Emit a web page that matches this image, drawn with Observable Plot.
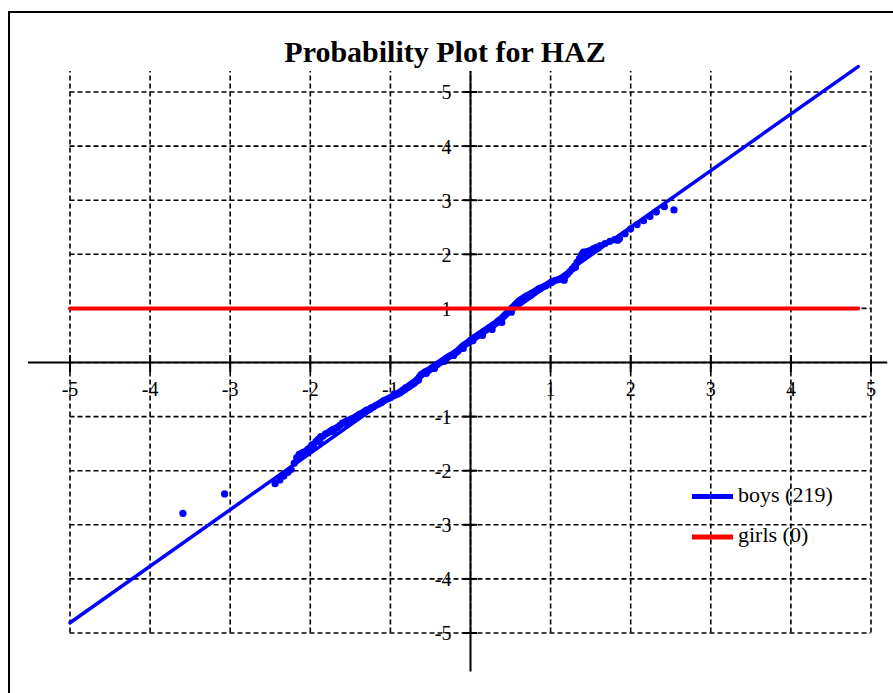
<!DOCTYPE html>
<html>
<head>
<meta charset="utf-8">
<script src="https://cdn.jsdelivr.net/npm/d3@7"></script>
<script src="https://cdn.jsdelivr.net/npm/@observablehq/plot@0.6"></script>
<style>
html, body { margin: 0; padding: 0; background: #fff; overflow: hidden; }
#wrap { position: relative; width: 893px; height: 693px; overflow: hidden; }
#chart { position: absolute; left: 0; top: 0; }
#border { position: absolute; left: 8px; top: 11px; width: 1000px; height: 1000px; border: 2px solid #000; pointer-events: none; }
</style>
</head>
<body>
<div id="wrap"><div id="chart"></div><div id="border"></div></div>
<script>
// ---- Data ----
const title = "Probability Plot for HAZ";
const xTicks = [-5, -4, -3, -2, -1, 0, 1, 2, 3, 4, 5];
const yTicks = [-5, -4, -3, -2, -1, 0, 1, 2, 3, 4, 5];
const xLabelValues = [-5, -4, -3, -2, -1, 1, 2, 3, 4, 5];
const xLabelTexts = ["-5", "-4", "-3", "-2", "-1", "1", "2", "3", "4", "5"];
const yLabelValues = [5, 4, 3, 2, 1, -1, -2, -3, -4, -5];
const yLabelTexts = ["5", "4", "3", "2", "1", "-1", "-2", "-3", "-4", "-5"];
const xAxisExtent = [-5.52, 5.21];
const yAxisExtent = [-5.72, 5.38];
const gridTop = 5.38;

const seriesNames = ["boys (219)", "girls (0)"];
const seriesColors = ["#0000ff", "#ff0000"];

// observed quantile pairs (theoretical z, HAZ) for boys
const boysZ = [-3.59, -3.07, -2.44, -2.38, -2.33, -2.28, -2.24, -2.2, -2.17, -2.14, -2.11, -2.07, -2.03, -2.0, -1.96, -1.93, -1.9, -1.87, -1.84, -1.81, -1.78, -1.75, -1.72, -1.69, -1.66, -1.63, -1.6, -1.57, -1.54, -1.51, -1.48, -1.45, -1.42, -1.39, -1.36, -1.33, -1.3, -1.27, -1.24, -1.21, -1.18, -1.15, -1.12, -1.09, -1.06, -1.03, -1.0, -0.97, -0.94, -0.91, -0.88, -0.85, -0.82, -0.79, -0.76, -0.73, -0.7, -0.68, -0.66, -0.64, -0.62, -0.6, -0.58, -0.56, -0.54, -0.52, -0.5, -0.48, -0.46, -0.44, -0.42, -0.4, -0.38, -0.36, -0.34, -0.32, -0.3, -0.28, -0.26, -0.24, -0.22, -0.2, -0.18, -0.16, -0.14, -0.12, -0.1, -0.08, -0.06, -0.04, -0.02, 0.0, 0.02, 0.04, 0.06, 0.08, 0.1, 0.12, 0.14, 0.16, 0.18, 0.2, 0.22, 0.24, 0.26, 0.28, 0.3, 0.32, 0.34, 0.36, 0.38, 0.4, 0.42, 0.44, 0.46, 0.48, 0.5, 0.52, 0.54, 0.56, 0.58, 0.6, 0.62, 0.64, 0.66, 0.68, 0.7, 0.73, 0.76, 0.79, 0.82, 0.85, 0.88, 0.91, 0.94, 0.97, 1.0, 1.03, 1.06, 1.09, 1.12, 1.15, 1.18, 1.21, 1.24, 1.27, 1.3, 1.33, 1.36, 1.39, 1.41, 1.45, 1.49, 1.53, 1.57, 1.62, 1.68, 1.74, 1.8, 1.86, 1.93, 2.0, 2.08, 2.16, 2.24, 2.32, 2.42, 2.54,
  -2.09, -1.98, -1.88, -1.71, -1.56, -1.41, -1.26, -1.11, -0.95, -0.81, -0.65, -0.55, -0.45, -0.33, -0.21, -0.09, 0.03, 0.15, 0.27, 0.39, 0.51, 0.63, 0.75, 0.87, 1.01, 1.17, 1.31, 1.38, 1.43, 1.6, 1.84];
const boysHAZ = [-2.79, -2.43, -2.24, -2.17, -2.1, -2.03, -1.98, -1.86, -1.76, -1.7, -1.68, -1.65, -1.6, -1.57, -1.52, -1.46, -1.42, -1.37, -1.36, -1.32, -1.3, -1.27, -1.24, -1.22, -1.2, -1.16, -1.12, -1.1, -1.08, -1.06, -1.04, -1.02, -0.99, -0.96, -0.94, -0.91, -0.88, -0.87, -0.84, -0.82, -0.79, -0.77, -0.74, -0.71, -0.69, -0.67, -0.65, -0.62, -0.6, -0.58, -0.56, -0.53, -0.5, -0.47, -0.44, -0.41, -0.38, -0.35, -0.31, -0.27, -0.23, -0.21, -0.19, -0.17, -0.16, -0.14, -0.12, -0.1, -0.08, -0.06, -0.04, -0.02, 0.0, 0.02, 0.04, 0.06, 0.08, 0.1, 0.12, 0.13, 0.15, 0.17, 0.19, 0.21, 0.24, 0.27, 0.3, 0.32, 0.34, 0.36, 0.38, 0.41, 0.43, 0.45, 0.47, 0.49, 0.51, 0.53, 0.55, 0.57, 0.59, 0.61, 0.63, 0.65, 0.67, 0.69, 0.71, 0.73, 0.76, 0.78, 0.8, 0.83, 0.86, 0.89, 0.92, 0.95, 0.98, 1.01, 1.04, 1.07, 1.1, 1.13, 1.15, 1.17, 1.19, 1.21, 1.23, 1.25, 1.28, 1.3, 1.33, 1.36, 1.38, 1.4, 1.42, 1.45, 1.47, 1.5, 1.52, 1.53, 1.54, 1.56, 1.59, 1.63, 1.68, 1.73, 1.78, 1.85, 1.92, 2.0, 2.04, 2.05, 2.07, 2.1, 2.13, 2.16, 2.2, 2.24, 2.27, 2.29, 2.38, 2.47, 2.55, 2.62, 2.7, 2.78, 2.88, 2.82,
  -1.66, -1.52, -1.46, -1.28, -1.12, -1.0, -0.87, -0.74, -0.58, -0.47, -0.33, -0.2, -0.11, 0.02, 0.13, 0.26, 0.4, 0.5, 0.61, 0.74, 0.93, 1.16, 1.24, 1.37, 1.48, 1.52, 1.76, 1.94, 2.01, 2.12, 2.26];

// fitted reference line for boys (endpoints)
const boysFitZ = [-5, 4.84];
const boysFitHAZ = [-4.81, 5.47];
// girls reference line
const girlsLineZ = [-5, 4.84];
const girlsLineHAZ = [1, 1];

// ---- Build ----
const boys = boysZ.map((z, i) => ({z, haz: boysHAZ[i]}));
const boysFit = boysFitZ.map((z, i) => ({z, haz: boysFitHAZ[i]}));
const girlsLine = girlsLineZ.map((z, i) => ({z, haz: girlsLineHAZ[i]}));
const serif = "'Liberation Serif', 'Times New Roman', Times, serif";
const gridStyle = {stroke: "#000", strokeWidth: 1.6, strokeDasharray: "5,3"};

const plot = Plot.plot({
  width: 893,
  height: 693,
  margin: 0,
  x: {domain: [-5, 5], range: [69.5, 870.5], axis: null},
  y: {domain: [-5, 5], range: [632.5, 91.5], axis: null},
  style: {background: "transparent", fontFamily: serif, color: "#000"},
  marks: [
    Plot.ruleX(xTicks, {x: d => d, y1: -5, y2: gridTop, ...gridStyle}),
    Plot.ruleY(yTicks, {y: d => d, x1: -5, x2: 5, ...gridStyle}),
    Plot.ruleY([0], {x1: xAxisExtent[0], x2: xAxisExtent[1], stroke: "#000", strokeWidth: 2}),
    Plot.ruleX([0], {y1: yAxisExtent[0], y2: yAxisExtent[1], stroke: "#000", strokeWidth: 2}),
    Plot.ruleX(xLabelValues, {x: d => d, y1: 0, y2: 0, insetTop: -7, insetBottom: -10, stroke: "#000", strokeWidth: 2}),
    Plot.ruleY(yLabelValues, {y: d => d, x1: 0, x2: 0, insetLeft: -7, insetRight: -7, stroke: "#000", strokeWidth: 2}),
    Plot.text(xLabelValues, {x: d => d, y: 0, text: (d, i) => xLabelTexts[i], dy: 27, fontSize: 20, fontFamily: serif, fill: "#000"}),
    Plot.text(yLabelValues, {x: 0, y: d => d, text: (d, i) => yLabelTexts[i], textAnchor: "end", dx: -19, dy: 1, fontSize: 20, fontFamily: serif, fill: "#000"}),
    Plot.line(boysFit, {x: "z", y: "haz", stroke: seriesColors[0], strokeWidth: 3.5}),
    Plot.dot(boys, {x: "z", y: "haz", r: 3.6, fill: seriesColors[0], stroke: "none"}),
    Plot.line(girlsLine, {x: "z", y: "haz", stroke: seriesColors[1], strokeWidth: 4}),
    Plot.text([title], {frameAnchor: "top", lineAnchor: "top", dy: 40, dx: -2, fontSize: 30, fontWeight: "bold", fontFamily: serif, fill: "#000"})
  ]
});
document.getElementById("chart").appendChild(plot);

// legend (inside plot area, bottom right)
const svg = d3.select(plot);
const lg = svg.append("g").attr("font-family", serif).attr("font-size", 22).attr("text-anchor", "start");
seriesNames.forEach((name, i) => {
  const cy = 496.5 + i * 40.5;
  lg.append("line").attr("x1", 692).attr("x2", 733).attr("y1", cy).attr("y2", cy)
    .attr("stroke", seriesColors[i]).attr("stroke-width", 5);
  lg.append("text").attr("x", 738).attr("y", cy + 5).attr("text-anchor", "start").text(name).attr("fill", "#000");
});
</script>
</body>
</html>
